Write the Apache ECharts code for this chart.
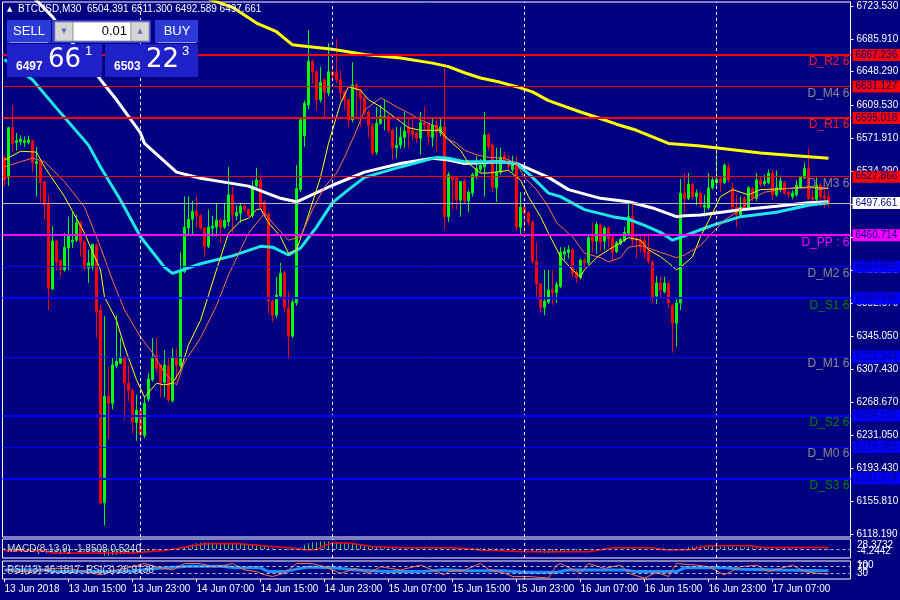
<!DOCTYPE html>
<html><head><meta charset="utf-8">
<script src="https://cdn.jsdelivr.net/npm/echarts@6/dist/echarts.min.js"></script>
<style>html,body{margin:0;padding:0;background:#000080;}#c{width:900px;height:600px;}</style>
</head><body><div id="c"></div>
<script>
// ---------- DATA ----------
const xTickLabels = ['13 Jun 2018','13 Jun 15:00','13 Jun 23:00','14 Jun 07:00','14 Jun 15:00','14 Jun 23:00','15 Jun 07:00','15 Jun 15:00','15 Jun 23:00','16 Jun 07:00','16 Jun 15:00','16 Jun 23:00','17 Jun 07:00'];
const barsPerLabel = 16;
const slotCount = 212;                 // bars + right shift
const daySeparators = [34, 82, 130, 178];
const priceTicks = [6118.19,6155.81,6193.43,6231.05,6268.67,6307.43,6345.05,6382.67,6420.29,6457.91,6496.67,6534.29,6571.91,6609.53,6648.29,6685.91,6723.53];
const priceMin = 6114.7, priceMax = 6728.1;

// M30 bars: [open, high, low, close]
const ohlc = [
[6550,6552,6517,6524],[6527,6585,6517,6584],[6584,6610,6556,6566],[6567,6578,6558,6569],[6568,6575,6564,6571],
[6567,6574,6562,6569],[6567,6575,6565,6570],[6569,6570,6533,6544],[6543,6562,6505,6545],[6545,6546,6499,6521],
[6522,6523,6478,6495],[6497,6507,6375,6400],[6399,6471,6398,6454],[6454,6455,6421,6430],[6432,6433,6413,6421],
[6421,6463,6419,6447],[6446,6482,6421,6461],[6453,6487,6446,6455],[6455,6484,6453,6475],[6475,6477,6436,6453],
[6453,6455,6420,6423],[6423,6444,6406,6429],[6424,6451,6421,6450],[6449,6451,6343,6373],[6375,6381,6152,6154],
[6154,6368,6128,6276],[6276,6310,6228,6268],[6268,6321,6261,6312],[6311,6369,6308,6316],[6314,6343,6313,6321],
[6321,6322,6249,6291],[6291,6312,6270,6283],[6283,6284,6234,6247],[6246,6278,6225,6260],[6260,6261,6228,6232],
[6231,6275,6228,6268],[6273,6303,6270,6296],[6295,6343,6293,6321],[6323,6343,6303,6308],[6312,6313,6275,6292],
[6292,6329,6275,6312],[6311,6321,6269,6272],[6271,6331,6269,6321],[6321,6331,6296,6311],[6311,6441,6309,6419],
[6419,6505,6417,6470],[6469,6505,6461,6479],[6479,6500,6461,6488],[6488,6505,6469,6483],[6483,6485,6467,6469],
[6469,6470,6436,6448],[6448,6490,6446,6470],[6469,6483,6459,6471],[6470,6498,6459,6478],[6478,6480,6452,6470],
[6470,6498,6468,6478],[6476,6539,6471,6507],[6507,6516,6463,6484],[6483,6495,6478,6487],[6486,6498,6475,6494],
[6494,6498,6487,6490],[6490,6491,6482,6483],[6483,6523,6481,6517],[6517,6538,6515,6524],[6524,6530,6490,6493],
[6499,6501,6482,6484],[6485,6487,6372,6385],[6385,6387,6361,6369],[6369,6413,6366,6392],[6391,6429,6389,6417],
[6417,6420,6372,6378],[6377,6396,6319,6345],[6345,6387,6343,6384],[6383,6541,6380,6514],[6513,6596,6510,6593],
[6575,6615,6562,6612],[6610,6696,6605,6660],[6660,6662,6635,6648],[6648,6650,6604,6616],[6616,6654,6613,6636],
[6639,6641,6596,6624],[6624,6681,6620,6648],[6648,6658,6638,6644],[6647,6686,6635,6639],[6639,6650,6616,6624],
[6625,6627,6604,6616],[6616,6617,6585,6593],[6593,6659,6590,6633],[6633,6635,6596,6627],[6627,6629,6585,6618],
[6618,6620,6598,6602],[6602,6604,6573,6587],[6587,6589,6552,6555],[6556,6608,6553,6589],[6589,6610,6587,6597],
[6595,6616,6581,6597],[6597,6599,6578,6581],[6581,6583,6547,6561],[6561,6585,6549,6564],[6564,6585,6560,6573],
[6573,6602,6561,6580],[6584,6595,6561,6578],[6581,6593,6570,6576],[6578,6580,6567,6572],[6572,6602,6553,6590],
[6590,6608,6580,6587],[6588,6590,6564,6574],[6573,6595,6562,6587],[6587,6593,6556,6579],[6578,6595,6574,6585],
[6585,6652,6467,6482],[6482,6533,6476,6530],[6528,6529,6490,6524],[6527,6528,6490,6501],[6501,6523,6482,6522],
[6523,6525,6497,6500],[6500,6512,6487,6510],[6509,6532,6505,6530],[6528,6552,6525,6537],[6536,6548,6533,6541],
[6539,6602,6505,6576],[6576,6578,6558,6562],[6564,6566,6510,6516],[6515,6561,6499,6533],[6533,6561,6530,6550],
[6552,6556,6543,6546],[6547,6552,6535,6539],[6536,6552,6533,6542],[6544,6551,6466,6470],[6470,6510,6460,6493],
[6493,6495,6463,6486],[6486,6488,6472,6476],[6476,6478,6428,6431],[6431,6452,6390,6405],[6405,6406,6372,6378],
[6378,6421,6369,6385],[6384,6421,6382,6398],[6398,6421,6381,6395],[6395,6407,6383,6404],[6402,6447,6400,6441],
[6439,6447,6432,6442],[6441,6449,6434,6444],[6444,6446,6412,6417],[6418,6421,6406,6412],[6412,6434,6410,6432],
[6432,6435,6423,6429],[6429,6460,6427,6458],[6459,6475,6441,6454],[6454,6476,6440,6473],[6472,6474,6442,6453],
[6454,6471,6444,6469],[6469,6471,6447,6457],[6458,6460,6431,6441],[6442,6454,6440,6452],[6451,6458,6449,6456],
[6455,6470,6453,6464],[6463,6497,6460,6482],[6482,6497,6449,6455],[6457,6462,6434,6455],[6455,6460,6441,6447],
[6455,6463,6434,6441],[6442,6463,6428,6431],[6430,6432,6383,6390],[6391,6414,6382,6406],[6406,6413,6389,6398],
[6396,6413,6394,6406],[6405,6408,6377,6383],[6380,6382,6326,6360],[6360,6389,6333,6383],[6383,6525,6375,6509],
[6509,6532,6486,6503],[6503,6532,6501,6519],[6519,6521,6502,6505],[6505,6513,6495,6509],[6509,6511,6492,6498],
[6493,6507,6482,6495],[6492,6532,6490,6515],[6515,6527,6513,6524],[6521,6557,6518,6525],[6525,6527,6510,6521],
[6521,6543,6519,6541],[6539,6543,6521,6524],[6515,6521,6486,6493],[6493,6507,6470,6484],[6484,6505,6482,6493],
[6503,6505,6490,6493],[6493,6517,6490,6515],[6514,6516,6500,6503],[6503,6532,6500,6524],[6524,6528,6516,6519],
[6520,6530,6517,6522],[6521,6536,6519,6532],[6532,6536,6501,6507],[6507,6535,6505,6515],[6514,6529,6510,6523],
[6521,6523,6507,6509],[6510,6512,6504,6507],[6505,6512,6502,6509],[6507,6524,6505,6518],[6516,6529,6514,6527],
[6527,6544,6525,6537],[6537,6560,6501,6503],[6504,6512,6499,6502],[6502,6527,6500,6518],[6518,6521,6502,6505],
[6506,6515,6492,6503],[6504.391,6511.3,6492.589,6497.661]
];
const lastPrice = 6497.661;

// moving averages: [bar, price]
const maFastYellow = [[0,6547],[4,6557],[8,6556],[10,6539],[15,6505],[20,6463],[24,6421],[25,6390],[28,6363],[30,6333],[33,6295],[35,6275],[38,6291],[40,6289],[42,6291],[44,6306],[46,6335],[49,6363],[53,6421],[56,6463],[59,6477],[61,6480],[63,6490],[64,6491],[66,6475],[69,6459],[71,6440],[73,6444],[75,6470],[79,6527],[81,6566],[84,6612],[86,6631],[89,6627],[91,6616],[94,6608],[96,6601],[99,6591],[101,6584],[104,6581],[109,6581],[111,6570],[114,6558],[116,6543],[119,6532],[121,6532],[126,6535],[129,6524],[131,6505],[134,6482],[136,6463],[139,6436],[142,6421],[144,6413],[145,6421],[148,6435],[151,6444],[154,6452],[156,6458],[159,6455],[161,6444],[164,6436],[166,6429],[168,6421],[169,6424],[172,6436],[174,6459],[177,6486],[179,6505],[182,6513],[184,6510],[186,6507],[189,6513],[195,6514],[201,6516],[206,6514]];
const maSlowOrange = [[0,6539],[4,6545],[7,6549],[10,6545],[15,6522],[20,6493],[24,6447],[27,6409],[30,6375],[34,6344],[37,6326],[40,6303],[43,6289],[45,6315],[49,6343],[53,6380],[56,6415],[59,6444],[61,6463],[64,6480],[65,6486],[68,6470],[71,6455],[74,6459],[77,6490],[80,6516],[83,6532],[85,6550],[88,6581],[90,6604],[94,6618],[95,6616],[98,6608],[101,6601],[104,6593],[108,6585],[110,6573],[113,6566],[115,6558],[118,6553],[121,6550],[125,6549],[128,6543],[130,6527],[133,6513],[136,6493],[138,6475],[140,6467],[142,6459],[145,6440],[149,6435],[151,6430],[154,6435],[156,6447],[159,6449],[161,6446],[164,6441],[168,6435],[170,6438],[174,6449],[176,6459],[180,6478],[184,6490],[187,6503],[190,6510],[195,6514],[200,6515],[206,6515]];
const maCyan = [[0,6662],[7,6639],[14,6601],[21,6564],[24,6539],[29,6501],[34,6459],[40,6424],[42,6417],[49,6428],[57,6437],[64,6448],[67,6447],[71,6438],[74,6446],[78,6470],[82,6498],[86,6513],[90,6527],[99,6539],[108,6550],[111,6549],[115,6545],[124,6545],[128,6543],[132,6527],[136,6509],[139,6505],[145,6490],[152,6482],[156,6479],[160,6472],[164,6464],[167,6455],[170,6460],[174,6467],[177,6472],[184,6482],[193,6487],[201,6495],[206,6498]];
const maWhite = [[0,6768],[8,6730],[12,6711],[24,6639],[28,6616],[34,6578],[35,6566],[43,6533],[49,6526],[61,6517],[69,6503],[73,6499],[74,6501],[82,6518],[90,6533],[99,6543],[107,6549],[111,6547],[115,6543],[124,6545],[128,6543],[132,6535],[136,6527],[141,6513],[149,6503],[156,6499],[162,6492],[168,6482],[170,6483],[174,6484],[184,6490],[193,6494],[201,6498],[206,6499]];
const maYellow = [[40,6750],[52,6730],[57,6722],[63,6704],[68,6694],[72,6679],[74,6678],[82,6674],[90,6668],[99,6664],[107,6658],[111,6654],[115,6647],[119,6641],[124,6636],[128,6631],[132,6625],[136,6615],[144,6602],[148,6596],[153,6588],[158,6581],[166,6566],[174,6563],[189,6555],[197,6552],[206,6549]];

// pivot levels
const levelNames  = ['D_M5','D_R2','D_M4','D_R1','D_M3','D_PP','D_M2','D_S1','D_M1','D_S2','D_M0','D_S3'];
const levelValues = [6734.388,6667.236,6631.127,6595.018,6527.866,6460.714,6424.605,6388.496,6321.344,6254.192,6218.083,6181.974];

// MACD(8,13,9)
const macdMain = [3,3,4,4,4,3,3,2,1,0,-1,
-4,-5,-5,-6,-6,-5,-5,-5,-4,-5,-5,-5,-7,
-15,-19,-19,-18,-16,-14,
-13,-12,-12,-11,-10,-8,-6,
-4,-2,-1,0,0,-1,-1,2,
6,10,13,16,18,19,19,18,18,17,17,16,16,16,
15,14,14,14,13,12,9,5,2,0,-1,-2,
-3,-3,0,5,
12,16,19,20,21,21,21,20,
19,18,17,16,15,13,12,10,8,
7,7,6,5,5,5,4,4,4,4,4,4,4,4,4,5,4,3,2,1,2,
2,2,2,2,2,3,3,3,3,2,2,2,2,2,1,1,0,
-2,-3,-6,-8,-10,-11,-11,-10,-9,-8,
-6,-5,-5,-5,-4,-3,-2,-1,
0,1,1,1,1,1,1,2,2,1,1,0,0,-1,-2,-3,-3,-3,-4,-5,-4,-2,
2,5,7,8,9,9,9,9,9,
8,8,7,7,6,5,5,5,4,4,4,4,4,4,3,3,3,3,3,2,1,0,-1,-1,-2,-2,-2,-2];
const macdSignal = [[0,-4.8],[10,-4.8],[12,-11],[32,-11.3],[40,-4],[45,5],[50,15],[58,15.5],[66,8],[72,3],[75,-2],[78,-2],[80,10],[82,17],[86,17],[92,7.4],[100,3.7],[112,3.7],[116,1],[120,-4],[123,-4],[130,-7.7],[146,-7.7],[152,3.7],[162,3.7],[165,-2],[171,-2],[176,9.4],[186,9.4],[190,4.5],[206,4.5]];

// RSI
const rsi13 = [[0,50],[10,50],[12,41],[24,41],[32,45],[38,59],[46,71],[54,71],[58,62],[64,62],[66,41],[70,41],[74,59],[76,66],[82,62],[88,50],[96,41],[104,41],[110,52],[115,46],[125,46],[130,38],[138,38],[141,50],[155,50],[158,41],[168,41],[170,62],[180,62],[184,54],[194,50],[206,46]];
const rsi3 = [[0,50],[3,41],[7,41],[12,59],[16,59],[20,41],[24,23],[28,50],[32,68],[35,86],[38,68],[42,50],[45,86],[49,86],[52,68],[55,77],[57,86],[60,50],[63,41],[65,23],[67,14],[70,32],[73,86],[77,86],[80,68],[84,32],[88,59],[91,32],[94,68],[99,50],[104,77],[107,50],[110,23],[111,41],[115,50],[119,86],[121,54],[125,32],[127,14],[131,14],[136,5],[138,77],[139,86],[144,32],[146,86],[150,59],[154,77],[156,32],[160,5],[163,36],[166,14],[168,86],[173,77],[176,68],[180,23],[184,68],[188,77],[191,41],[194,59],[197,77],[200,41],[203,32],[206,27]];
const rsiLevels = [70, 30];

// ---------- BUILD ----------
const FONT = '"Liberation Sans", Arial, sans-serif';
const FS = 10;
const cats = Array.from({length: slotCount}, (_, i) => String(i));
const sparse = pts => { const a = new Array(slotCount).fill(null); pts.forEach(([i, v]) => a[i] = v); return a; };
const candleData = ohlc.map(([o, h, l, c]) => [o, c, l, h]);
const showTick = i => i % barsPerLabel === 0 && (i / barsPerLabel) < xTickLabels.length;

function levelStyle(name) {
  if (name === 'D_M5') return {line: null, tag: null, text: '#8a8a8a'};
  if (name.startsWith('D_R')) return {line: '#ff0000', w: 2, tag: '#ff0000', text: '#ff1a1a'};
  if (name === 'D_M4' || name === 'D_M3') return {line: '#ff0000', w: 1, tag: '#ff0000', text: '#8a8a8a'};
  if (name === 'D_PP') return {line: '#ff00ff', w: 2, tag: '#ff00ff', text: '#ff00ff'};
  if (name.startsWith('D_S')) return {line: '#0000ff', w: 2, tag: '#0000ff', text: '#008000'};
  return {line: '#0000ff', w: 1, tag: '#0000ff', text: '#8a8a8a'};
}
const tagLabel = (bg) => ({show: true, position: 'end', distance: 2, backgroundColor: bg, color: '#000080',
  fontSize: FS, fontFamily: FONT, lineHeight: 12, padding: [0, 5, 0, 3]});

const mainMarks = [];
daySeparators.forEach(b => mainMarks.push({xAxis: b, lineStyle: {color: '#ffffff', width: 1, type: [3, 3]}, label: {show: false}}));
levelNames.forEach((name, k) => {
  const st = levelStyle(name), v = levelValues[k];
  mainMarks.push({yAxis: v, lineStyle: {color: 'rgba(0,0,0,0)', width: 1, type: 'solid'},
    label: {show: true, position: 'insideEndBottom', distance: 1, color: st.text, fontSize: 12, fontFamily: FONT,
      formatter: name === 'D_PP' ? 'D_PP : 6' : name + ' 6'}});
  if (st.line) mainMarks.push({yAxis: v, lineStyle: {color: st.line, width: st.w, type: 'solid'},
    label: Object.assign(tagLabel(st.tag), {formatter: v.toFixed(3)})});
});
mainMarks.push({yAxis: lastPrice, lineStyle: {color: '#b4b4b4', width: 1, type: 'solid'},
  label: Object.assign(tagLabel('#ffffff'), {formatter: lastPrice.toFixed(3)})});

const sepMarks = daySeparators.map(b => ({xAxis: b, lineStyle: {color: '#ffffff', width: 1, type: [3, 3]}, label: {show: false}}));

const lineS = (name, pts, color, width, z) => ({
  name, type: 'line', xAxisIndex: 0, yAxisIndex: 0, data: sparse(pts), connectNulls: true,
  showSymbol: false, symbol: 'none', lineStyle: {color, width}, z, silent: true, clip: true
});

const gridLeft = 2.5, gridWidth = slotCount * 4;
const grids = [
  {left: gridLeft, top: 2, width: gridWidth, height: 535},
  {left: gridLeft, top: 539, width: gridWidth, height: 19},
  {left: gridLeft, top: 561, width: gridWidth, height: 18}
].map(g => Object.assign(g, {show: true, borderColor: '#ffffff', borderWidth: 1, backgroundColor: 'transparent',
  containLabel: false, outerBoundsMode: 'none'}));

const xAxes = [0, 1, 2].map(gi => ({
  type: 'category', gridIndex: gi, data: cats, boundaryGap: true,
  axisLine: {show: false}, splitLine: {show: false},
  axisTick: gi === 2 ? {show: true, interval: (i) => showTick(i), alignWithLabel: true, length: 3, lineStyle: {color: '#fff'}} : {show: false},
  axisLabel: gi === 2 ? {show: true, interval: (i) => showTick(i), align: 'left', color: '#ffffff', fontSize: FS,
    fontFamily: FONT, margin: 5, formatter: (v, i) => xTickLabels[i / barsPerLabel] || ''} : {show: false}
}));

const yAxes = [
  {type: 'value', gridIndex: 0, position: 'right', min: priceMin, max: priceMax, scale: true,
   axisLine: {show: true, lineStyle: {color: '#ffffff'}},
   axisTick: {show: true, length: 3, customValues: priceTicks, lineStyle: {color: '#ffffff'}},
   axisLabel: {show: true, customValues: priceTicks, formatter: v => v.toFixed(3), color: '#ffffff', fontSize: FS, fontFamily: FONT, margin: 6},
   splitLine: {show: false}},
  {type: 'value', gridIndex: 1, min: -25.5, max: 28.4, show: false},
  {type: 'value', gridIndex: 2, min: 0, max: 100, show: false}
];

const series = [
  {name: 'BTCUSD', type: 'candlestick', xAxisIndex: 0, yAxisIndex: 0, data: candleData, barWidth: 2, z: 2,
   itemStyle: {color: '#00ff00', color0: '#ff0000', borderColor: '#00ff00', borderColor0: '#ff0000', borderWidth: 1},
   markLine: {symbol: ['none', 'none'], silent: true, animation: false, precision: 3, data: mainMarks}},
  lineS('MA white', maWhite, '#ffffff', 3, 3),
  lineS('MA cyan', maCyan, '#1ee6e6', 3, 3),
  lineS('MA yellow', maYellow, '#ffff00', 3, 3),
  lineS('MA fast', maFastYellow, '#ffff00', 1, 4),
  lineS('MA slow', maSlowOrange, '#ff7040', 1, 4),
  {name: 'MACD', type: 'bar', xAxisIndex: 1, yAxisIndex: 1, data: macdMain.concat(new Array(slotCount - macdMain.length).fill(null)),
   barWidth: 1, itemStyle: {color: '#3ccf3c'}, silent: true,
   markLine: {symbol: ['none', 'none'], silent: true, animation: false,
     data: [{yAxis: 0, lineStyle: {color: '#c0c0c0', width: 1, type: [3, 3]}, label: {show: false}}].concat(sepMarks)}},
  {name: 'Signal', type: 'line', xAxisIndex: 1, yAxisIndex: 1, data: sparse(macdSignal), connectNulls: true,
   showSymbol: false, symbol: 'none', lineStyle: {color: '#ff0000', width: 1.5}, silent: true},
  {name: 'RSI13', type: 'line', xAxisIndex: 2, yAxisIndex: 2, data: sparse(rsi13), connectNulls: true,
   showSymbol: false, symbol: 'none', lineStyle: {color: '#1e90ff', width: 3}, silent: true,
   markLine: {symbol: ['none', 'none'], silent: true, animation: false,
     data: rsiLevels.map(v => ({yAxis: v, lineStyle: {color: '#c0c0c0', width: 1, type: [3, 3]}, label: {show: false}})).concat(sepMarks)}},
  {name: 'RSI3', type: 'line', xAxisIndex: 2, yAxisIndex: 2, data: sparse(rsi3), connectNulls: true,
   showSymbol: false, symbol: 'none', lineStyle: {color: '#ff7040', width: 1}, silent: true}
];

const T = (text, x, y, font, fill, align) => ({type: 'text', x, y, z: 100,
  style: {text, fill, font, align: align || 'left', verticalAlign: 'middle'}});
const R = (x, y, w, h, fill, stroke) => ({type: 'rect', z: 99, shape: {x, y, width: w, height: h},
  style: {fill, stroke: stroke || null, lineWidth: stroke ? 1 : 0}});
const smallF = FS + 'px ' + FONT;
const graphic = [
  T('\u25B2', 7, 9, '7px "DejaVu Sans", sans-serif', '#ffffff'),
  T('BTCUSD,M30  6504.391 6511.300 6492.589 6497.661', 18, 9, smallF, '#ffffff'),
  // one-click trading panel
  R(7, 20, 44, 23, '#2b3ad6'),
  {type: 'line', z: 100, shape: {x1: 10, y1: 42.5, x2: 48, y2: 42.5}, style: {stroke: '#8c9bff', lineWidth: 1}},
  T('SELL', 29, 31, '13px "Liberation Sans", sans-serif', '#ffffff', 'center'),
  R(52, 20, 99, 23, '#2b3ad6'),
  R(55, 22, 18, 19, '#d6d6d6', '#a0a0a0'),
  R(73, 22, 58, 19, '#ffffff', '#a0a0a0'),
  R(131, 22, 18, 19, '#d6d6d6', '#a0a0a0'),
  T('\u25BC', 64, 31, '7px "DejaVu Sans", sans-serif', '#6070b0', 'center'),
  T('\u25B2', 140, 31, '7px "DejaVu Sans", sans-serif', '#6070b0', 'center'),
  T('0.01', 127, 31, '13px "Liberation Sans", sans-serif', '#000000', 'right'),
  R(155, 20, 43, 23, '#2b3ad6'),
  {type: 'line', z: 100, shape: {x1: 158, y1: 42.5, x2: 196, y2: 42.5}, style: {stroke: '#8c9bff', lineWidth: 1}},
  T('BUY', 177, 31, '13px "Liberation Sans", sans-serif', '#ffffff', 'center'),
  R(7, 44, 95, 33, '#2020c8'),
  R(105, 44, 93, 33, '#2020c8'),
  T('6497', 16, 67, 'bold 12px "Liberation Sans", sans-serif', '#ffffff'),
  T('66', 48, 60, '26px "DejaVu Sans", sans-serif', '#ffffff'),
  T('1', 85, 51, '13px "Liberation Sans", sans-serif', '#ffffff'),
  T('6503', 114, 67, 'bold 12px "Liberation Sans", sans-serif', '#ffffff'),
  T('22', 146, 60, '26px "DejaVu Sans", sans-serif', '#ffffff'),
  T('3', 182, 51, '13px "Liberation Sans", sans-serif', '#ffffff'),
  // sub-window captions and scales
  T('MACD(8,13,9) -1.8508 0.5240', 7, 549, smallF, '#d8d8d8'),
  T('RSI(13) 46.1817  RSI(3) 26.9138', 7, 570, smallF, '#d8d8d8'),
  T('28.3732', 857, 545, smallF, '#ffffff'),
  T('-4.2442', 857, 551, smallF, '#ffffff'),
  T('100', 857, 565, smallF, '#ffffff'),
  T('70', 857, 567, smallF, '#ffffff'),
  T('30', 857, 573, smallF, '#ffffff')
];

const chart = echarts.init(document.getElementById('c'), null, {renderer: 'canvas'});
chart.setOption({
  backgroundColor: '#000080', animation: false,
  grid: grids, xAxis: xAxes, yAxis: yAxes, series, graphic
});
</script></body></html>
